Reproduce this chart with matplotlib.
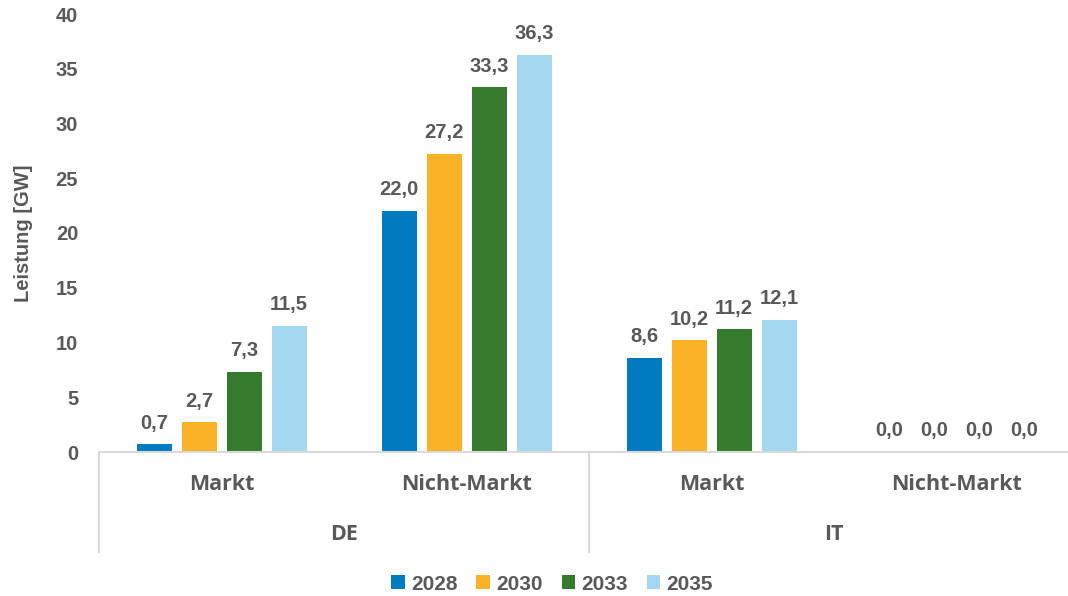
import numpy as np
import matplotlib.pyplot as plt
from matplotlib.patches import Patch

plt.rcParams['font.family'] = ['Liberation Sans', 'DejaVu Sans']

countries = ['DE', 'IT']
segments = ['Markt', 'Nicht-Markt', 'Markt', 'Nicht-Markt']
years = ['2028', '2030', '2033', '2035']
values_2028 = [0.7, 22.0, 8.6, 0.0]
values_2030 = [2.7, 27.2, 10.2, 0.0]
values_2033 = [7.3, 33.3, 11.2, 0.0]
values_2035 = [11.5, 36.3, 12.1, 0.0]
colors = ['#007BC0', '#FBB325', '#347B2E', '#A3D8F0']

series = [values_2028, values_2030, values_2033, values_2035]
text_col = '#595959'
line_col = '#D9D9D9'
cat_font = ['Open Sans', 'DejaVu Sans']

fig = plt.figure(figsize=(10.68, 5.96), dpi=100)
ax = fig.add_axes([99 / 1068, 144 / 596, 980 / 1068, 438 / 596])

x = np.arange(len(segments)) + 0.5
width = 35 / 245
pitch = 45 / 245
for i, (vals, col) in enumerate(zip(series, colors)):
    pos = x + (i - 1.5) * pitch
    ax.bar(pos, vals, width=width, color=col, zorder=2)
    for px, v in zip(pos, vals):
        ax.annotate(f'{v:.1f}'.replace('.', ','), (px, v), xytext=(0, 8.5),
                    textcoords='offset points', ha='center', va='bottom',
                    fontsize=14.5, fontweight='bold', color=text_col)

ax.set_xlim(0, 4)
ax.set_ylim(0, 40)
ax.set_yticks(range(0, 41, 5))
ax.tick_params(axis='y', length=0, pad=15, labelsize=14.5, labelcolor=text_col)
for lbl in ax.get_yticklabels():
    lbl.set_fontweight('bold')
ax.set_xticks([])
for s in ['top', 'right', 'left']:
    ax.spines[s].set_visible(False)
ax.spines['bottom'].set_color(line_col)
ax.spines['bottom'].set_linewidth(1.5)

ax.set_ylabel('Leistung [GW]', fontsize=14.5, fontweight='bold', color=text_col)
ax.yaxis.set_label_coords(-66 / 980, 0.5)

# multi-level category axis
trans = ax.get_xaxis_transform()
for xv in [0, 2, 4]:
    ax.plot([xv, xv], [0, -100 / 438], color=line_col, lw=1.5, transform=trans, clip_on=False)
for xv, seg in zip(x, segments):
    ax.text(xv, -33 / 438, seg, transform=trans, ha='center', va='center',
            fontsize=15.5, fontweight='bold', color=text_col, family=cat_font)
for j, c in enumerate(countries):
    ax.text(2 * j + 1, -83 / 438, c, transform=trans, ha='center', va='center',
            fontsize=15.5, fontweight='bold', color=text_col, family=cat_font)

handles = [Patch(facecolor=c, label=y) for c, y in zip(colors, years)]
leg = fig.legend(handles=handles, loc='center', bbox_to_anchor=(0.517, 12 / 596), ncol=4,
                 frameon=False, handlelength=0.65, handleheight=0.65, handletextpad=0.3,
                 columnspacing=0.9, prop={'size': 15, 'weight': 'bold'})
for t in leg.get_texts():
    t.set_color(text_col)

fig.savefig('out.png', dpi=100)
